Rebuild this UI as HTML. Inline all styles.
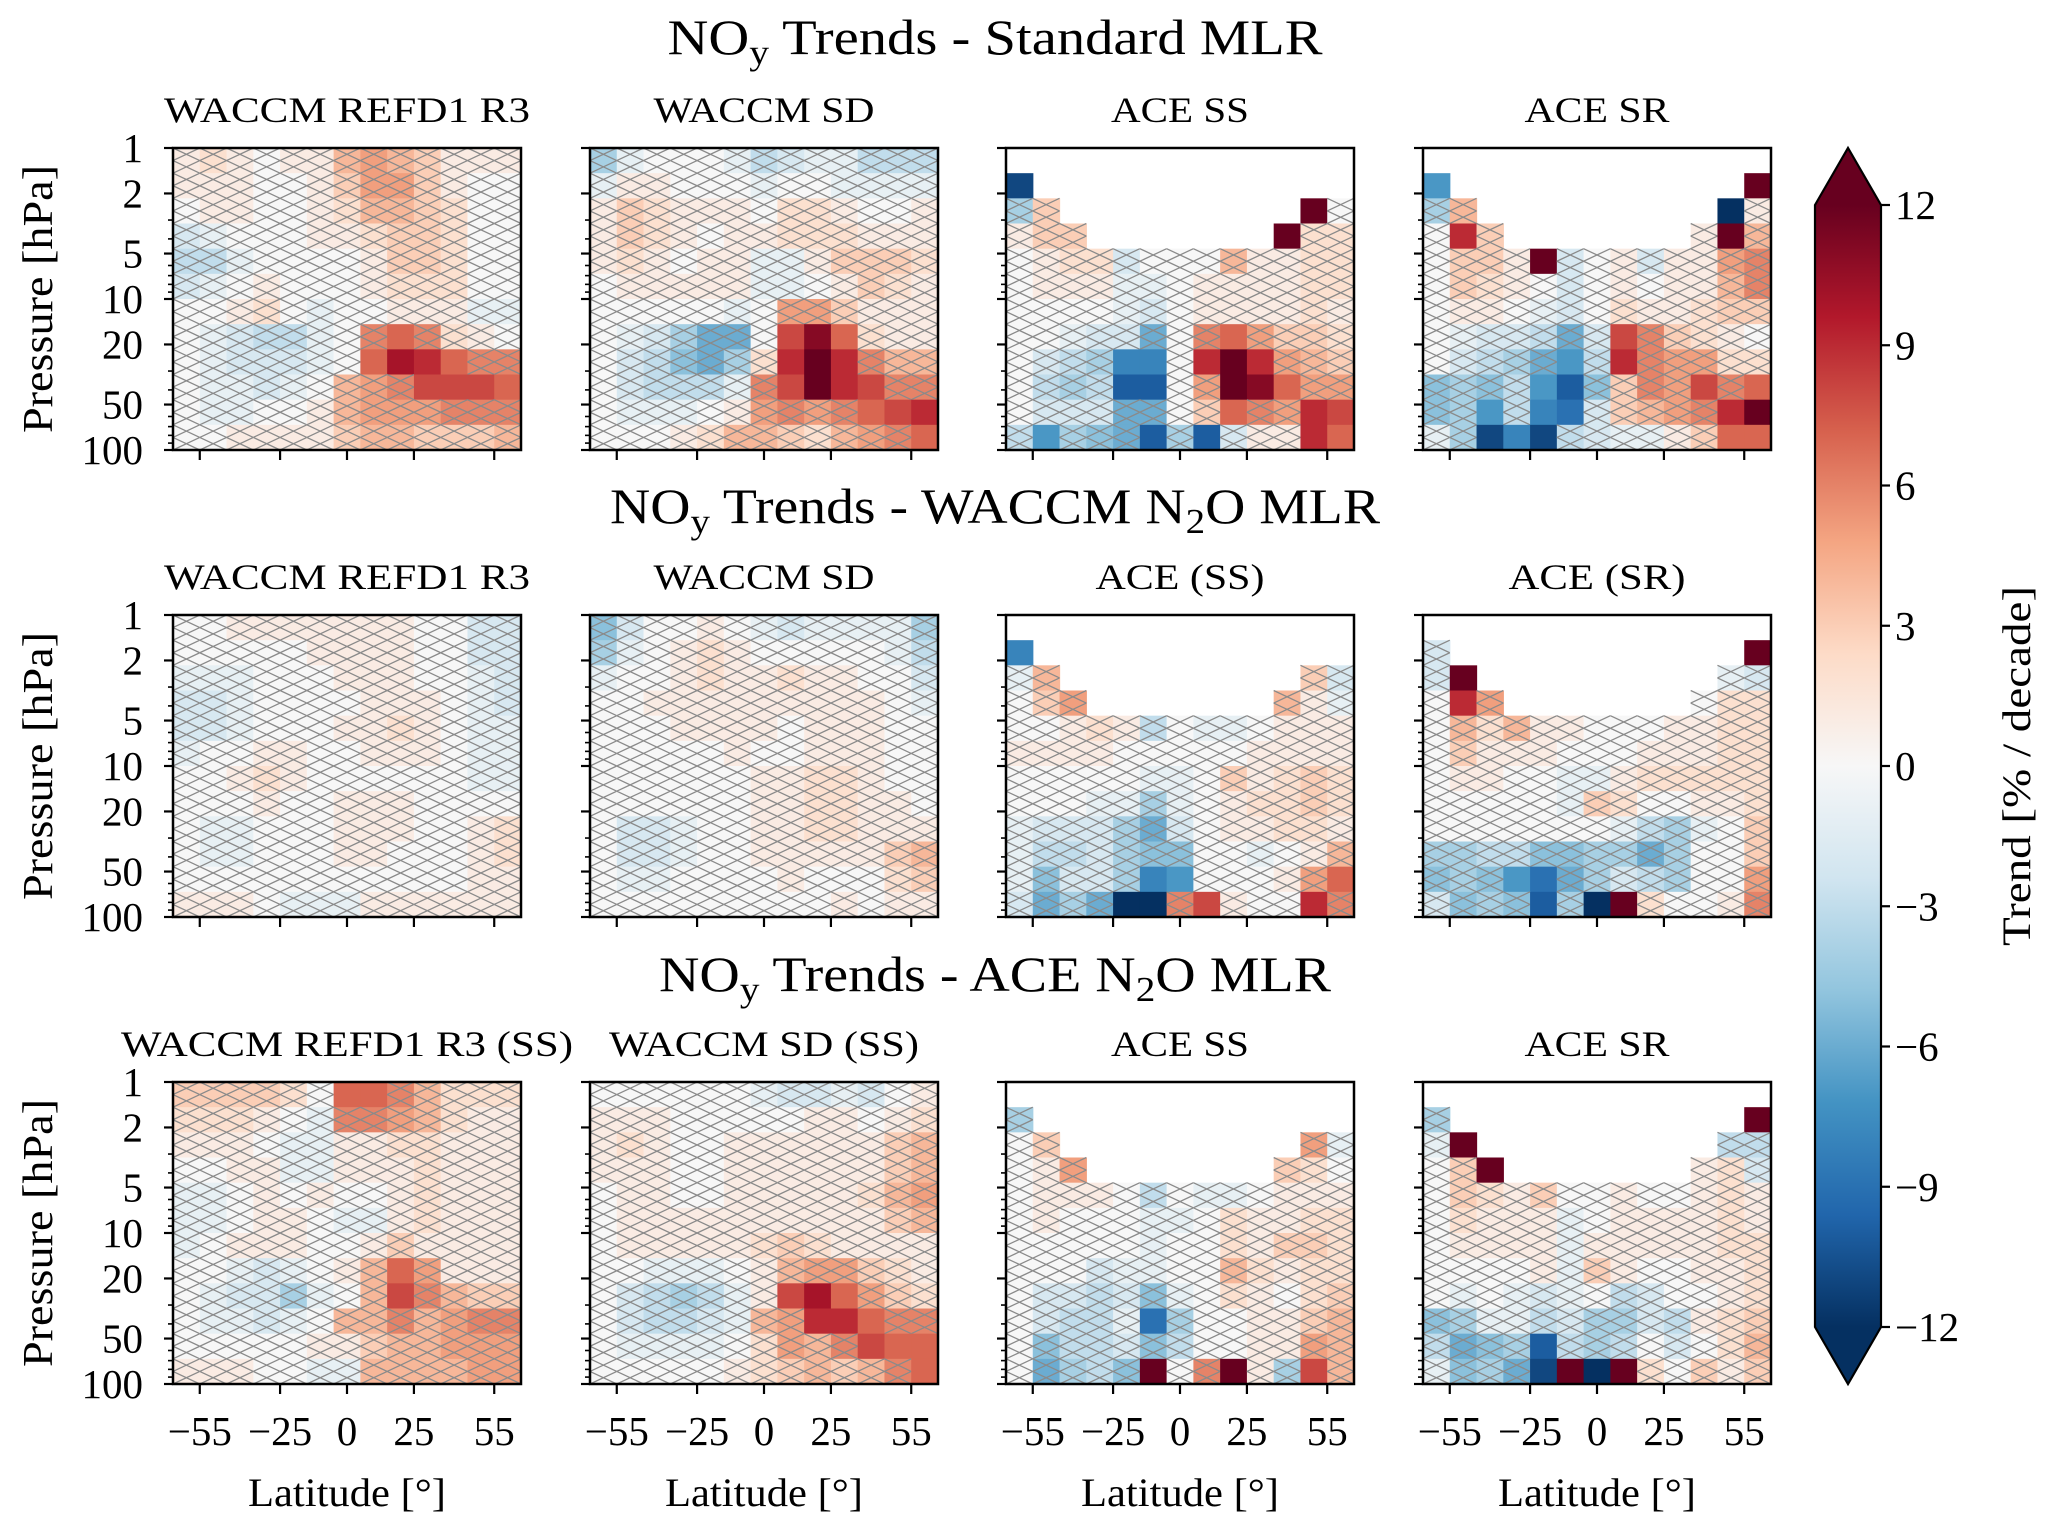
<!DOCTYPE html>
<html><head><meta charset="utf-8">
<style>
html,body{margin:0;padding:0;background:#fff;}
svg{display:block;font-family:"Liberation Serif",serif;}
</style></head>
<body>
<svg id="fig" width="2067" height="1532" viewBox="0 0 2067 1532" xmlns="http://www.w3.org/2000/svg">
<defs>
<linearGradient id="cbgrad" x1="0" y1="1" x2="0" y2="0">
<stop offset="0" stop-color="#053061"/><stop offset="0.1" stop-color="#2166ac"/><stop offset="0.2" stop-color="#4393c3"/><stop offset="0.3" stop-color="#92c5de"/><stop offset="0.4" stop-color="#d1e5f0"/><stop offset="0.5" stop-color="#f7f7f7"/><stop offset="0.6" stop-color="#fddbc7"/><stop offset="0.7" stop-color="#f4a582"/><stop offset="0.8" stop-color="#d6604d"/><stop offset="0.9" stop-color="#b2182b"/><stop offset="1" stop-color="#67001f"/>
</linearGradient>
</defs>
<g id="panels"></g>
<g id="texts">
<text x="995" y="54" font-size="50" text-anchor="middle" textLength="655" lengthAdjust="spacingAndGlyphs">NO<tspan font-size="35" dy="10">y</tspan><tspan dy="-10"> Trends - Standard MLR</tspan></text>
<text x="995" y="523" font-size="50" text-anchor="middle" textLength="770" lengthAdjust="spacingAndGlyphs">NO<tspan font-size="35" dy="10">y</tspan><tspan dy="-10"> Trends - WACCM N</tspan><tspan font-size="35" dy="10">2</tspan><tspan dy="-10">O MLR</tspan></text>
<text x="995" y="991" font-size="50" text-anchor="middle" textLength="672" lengthAdjust="spacingAndGlyphs">NO<tspan font-size="35" dy="10">y</tspan><tspan dy="-10"> Trends - ACE N</tspan><tspan font-size="35" dy="10">2</tspan><tspan dy="-10">O MLR</tspan></text>
</g>
<g id="colorbar"></g>
</svg>
<script>
const NS="http://www.w3.org/2000/svg";
const lats=[-60,-50,-40,-30,-20,-10,0,10,20,30,40,50,60];
const latTicks=[-55,-25,0,25,55];
const pTicks=[1,2,5,10,20,50,100];
const pMinor=[3,4,6,7,8,9,30,40,60,70,80,90];
const cbTicks=[-12,-9,-6,-3,0,3,6,9,12];
const titles=["WACCM REFD1 R3","WACCM SD","ACE SS","ACE SR","WACCM REFD1 R3","WACCM SD","ACE (SS)","ACE (SR)","WACCM REFD1 R3 (SS)","WACCM SD (SS)","ACE SS","ACE SR"];
const titleWidths=[366,221,138,145,366,221,169,177,452,310,138,145];
const N=null;
// each panel: 12 rows (1 hPa -> 100 hPa), 13 latitude columns (-60..60)
const p1=[[1,2,1,0,1,1,4,5,4,3,1,1,1],[1,1,1,0,0,1,3,5,5,3,1,0,0],[0,1,1,0,0,1,2,4,4,3,2,0,0],[-2,-1,0,0,0,1,1,2,3,3,2,0,0],[-3,-3,-1,0,0,0,0,1,3,3,2,0,0],[-2,-1,0,1,0,0,0,1,2,2,2,0,0],[0,0,1,2,0,-1,0,0,1,1,1,-1,-1],[0,-1,-2,-3,-3,-1,0,6,7,6,2,1,0],[0,-1,-2,-2,-2,-1,0,7,10,9,7,6,6],[0,-1,-1,-2,-1,0,4,5,6,8,8,8,7],[0,-1,-1,0,0,1,4,5,5,5,6,6,6],[0,0,1,1,1,1,3,4,4,3,3,3,4]];
const p2=[[-4,-1,0,0,0,-1,-3,-2,-1,-1,-3,-3,-3],[-1,1,1,0,0,0,-1,0,0,-1,-1,-1,-1],[1,3,2,1,1,1,0,2,2,1,0,0,1],[1,3,2,1,0,1,1,2,2,2,1,1,1],[1,2,1,0,1,1,-1,-1,1,3,3,3,2],[0,1,1,1,1,1,-1,-1,0,1,3,2,1],[0,0,0,0,0,-1,0,5,5,3,1,1,1],[0,-1,-2,-4,-6,-6,0,8,11,7,2,1,1],[0,-2,-3,-5,-6,-4,2,9,12,9,6,4,4],[0,-2,-3,-3,-3,-1,6,8,12,9,8,6,6],[0,-1,-1,-1,0,1,5,6,5,6,7,8,9],[0,0,0,1,2,4,4,3,2,4,5,6,7]];
const p3=[[N,N,N,N,N,N,N,N,N,N,N,N,N],[-11,N,N,N,N,N,N,N,N,N,N,N,N],[-4,3,N,N,N,N,N,N,N,N,N,12,0],[1,3,3,N,N,N,N,N,N,N,12,2,2],[0,1,2,2,-2,0,0,0,4,1,1,2,2],[0,1,1,1,-1,-1,0,1,1,1,1,2,2],[0,0,0,0,-1,-2,0,1,1,1,1,2,1],[0,0,-1,-2,-2,-6,0,6,7,5,3,3,2],[0,-2,-3,-4,-8,-8,0,9,12,9,5,4,3],[0,-3,-4,-3,-10,-10,0,5,12,11,7,5,5],[0,-2,-2,-2,-6,-6,0,3,7,6,5,9,8],[-3,-7,-4,-5,-6,-10,-4,-10,-2,1,1,9,7]];
const p4=[[N,N,N,N,N,N,N,N,N,N,N,N,N],[-7,N,N,N,N,N,N,N,N,N,N,N,12],[-4,4,N,N,N,N,N,N,N,N,N,-12,1],[0,9,3,N,N,N,N,N,N,N,1,12,4],[0,3,3,1,12,-2,0,1,-2,1,1,5,6],[0,3,2,1,0,-2,0,1,0,1,1,4,6],[0,1,1,0,-1,-2,0,2,1,1,2,3,3],[0,-1,-2,-2,-3,-6,-2,8,6,3,2,1,0],[0,-2,-3,-4,-6,-7,-3,9,6,5,5,2,2],[-5,-4,-5,-3,-7,-10,-5,3,6,5,8,6,7],[-5,-4,-7,-3,-8,-9,-2,3,4,5,6,9,12],[-1,-4,-11,-8,-11,-3,-2,-1,-1,1,3,7,7]];
const p5=[[0,0,1,1,1,1,1,1,1,0,0,-2,-2],[0,0,0,0,0,1,1,1,1,0,0,-2,-2],[-1,-1,-1,0,0,0,1,1,1,0,0,-1,-2],[-2,-2,-1,0,0,0,0,1,1,1,0,-1,-2],[-2,-2,-1,0,0,0,1,1,2,1,0,-1,-1],[-1,0,0,1,1,0,0,1,1,1,0,-1,-1],[0,0,1,2,1,0,0,0,0,0,0,-1,-1],[0,0,0,1,0,0,1,1,1,0,0,0,0],[0,-1,-1,0,0,0,1,1,1,0,0,1,2],[0,-1,-1,0,0,0,1,1,0,0,0,1,2],[0,0,0,0,0,0,0,0,0,0,0,1,1],[1,1,1,0,-1,-1,-1,1,1,1,1,1,1]];
const p6=[[-5,-2,0,0,1,0,-1,-2,-1,-1,-1,-1,-4],[-4,-1,0,1,2,1,0,0,0,0,0,-1,-3],[-1,0,0,1,2,1,1,2,1,1,0,0,-2],[0,0,1,1,1,1,1,1,1,1,1,0,-1],[0,0,0,1,1,1,1,0,1,1,1,0,0],[0,0,0,0,0,1,0,0,1,1,1,0,0],[0,0,0,0,0,0,1,1,2,2,1,0,0],[0,0,0,0,0,0,1,1,2,2,1,1,0],[0,-2,-2,-1,0,0,1,1,2,2,1,1,1],[0,-2,-2,-1,0,0,1,1,1,1,1,3,4],[0,-1,-1,0,0,0,0,1,0,0,0,2,3],[0,0,0,0,0,0,0,0,0,1,0,1,1]];
const p7=[[N,N,N,N,N,N,N,N,N,N,N,N,N],[-8,N,N,N,N,N,N,N,N,N,N,N,N],[-1,4,N,N,N,N,N,N,N,N,N,3,-2],[0,3,5,N,N,N,N,N,N,N,4,1,-1],[0,0,1,2,1,-3,0,-1,-1,0,1,1,1],[1,1,1,1,0,0,0,0,0,1,1,1,1],[0,0,0,0,0,-1,-1,0,3,1,2,3,2],[0,0,0,-1,-1,-4,-1,0,1,2,2,3,2],[-1,-2,-2,-2,-4,-6,-2,0,1,1,2,2,1],[-1,-3,-3,-2,-4,-5,-5,0,0,-1,0,1,4],[-1,-5,-2,-2,-4,-8,-7,0,0,0,1,5,7],[-2,-6,-4,-6,-12,-12,6,8,1,0,0,9,6]];
const p8=[[N,N,N,N,N,N,N,N,N,N,N,N,N],[-2,N,N,N,N,N,N,N,N,N,N,N,12],[-2,12,N,N,N,N,N,N,N,N,N,-1,-2],[0,9,5,N,N,N,N,N,N,N,0,2,2],[0,4,2,4,1,1,0,0,0,1,1,2,2],[0,3,1,1,1,0,0,0,1,1,1,2,2],[0,1,1,0,0,-1,-1,1,2,2,2,2,2],[0,0,0,0,0,-1,3,2,0,0,1,1,2],[0,0,0,0,0,0,0,-1,-3,-4,-1,0,3],[-4,-4,-3,-3,-5,-5,-4,-4,-6,-4,0,0,3],[-5,-4,-5,-7,-9,-6,-4,-2,-3,-4,0,0,5],[-2,-5,-4,-5,-10,-4,-12,12,2,0,0,1,6]];
const p9=[[3,3,3,3,2,0,7,7,6,4,2,2,2],[2,2,2,1,0,-1,6,6,5,4,2,1,1],[1,1,1,0,-1,-1,1,1,2,2,1,1,1],[0,0,1,1,-1,-1,1,1,1,2,1,1,1],[-1,-1,0,1,0,1,0,0,1,2,1,1,1],[-1,-1,0,1,1,0,-1,-1,1,2,1,1,1],[-1,0,1,1,1,0,0,1,3,1,1,1,1],[0,0,-1,-2,-1,0,1,4,7,5,1,1,1],[0,-1,-2,-2,-4,-1,0,4,8,6,4,3,3],[0,-1,-1,-2,-1,0,4,4,6,4,5,6,6],[0,0,0,0,0,1,1,3,4,4,5,5,5],[1,1,1,0,0,-1,-1,4,4,4,4,5,5]];
const p10=[[0,0,0,0,0,0,-1,-2,-2,-1,-2,0,1],[1,1,1,0,0,0,0,0,1,1,0,1,2],[1,2,1,0,0,1,1,1,1,1,1,3,4],[1,1,1,0,0,1,1,1,1,1,1,3,4],[0,1,1,0,0,1,1,1,1,1,2,4,5],[0,1,1,1,1,1,1,1,1,1,1,3,4],[0,1,1,1,1,1,2,3,2,1,1,1,1],[0,0,-1,-1,-1,0,1,4,5,5,3,2,1],[0,-2,-3,-4,-3,-1,1,8,10,7,5,3,2],[0,-2,-3,-3,-2,-1,4,5,9,9,7,6,6],[0,-1,-1,-1,-1,0,2,5,4,6,8,7,7],[0,0,0,0,0,1,2,3,4,3,4,6,7]];
const p11=[[N,N,N,N,N,N,N,N,N,N,N,N,N],[-4,N,N,N,N,N,N,N,N,N,N,N,N],[0,3,N,N,N,N,N,N,N,N,N,5,-1],[0,1,5,N,N,N,N,N,N,N,3,2,0],[0,1,1,1,0,-3,0,-1,-1,0,1,1,1],[0,1,0,0,0,-1,-1,0,2,1,1,2,2],[0,0,0,0,0,-1,0,0,2,1,3,3,2],[0,0,0,-2,-1,-1,0,0,4,2,1,2,2],[0,-2,-2,-3,-2,-5,-1,0,2,1,0,2,3],[0,-2,-3,-3,-1,-9,-4,0,0,1,1,3,4],[0,-5,-3,-3,-2,-5,-3,0,0,1,1,5,4],[0,-6,-4,-3,-5,12,0,6,12,1,-4,8,4]];
const p12=[[N,N,N,N,N,N,N,N,N,N,N,N,N],[-4,N,N,N,N,N,N,N,N,N,N,N,12],[-1,12,N,N,N,N,N,N,N,N,N,-3,-3],[0,3,12,N,N,N,N,N,N,N,1,2,-2],[0,3,2,1,3,0,0,1,0,0,1,2,1],[0,2,1,1,1,-1,0,1,1,1,1,2,1],[0,1,1,1,1,-1,1,1,1,1,1,2,2],[0,0,0,0,1,-1,3,1,0,0,1,1,2],[0,-1,0,-1,-2,-1,0,-3,-2,0,0,1,2],[-5,-4,-1,-1,-3,-2,-4,-4,-2,-3,1,2,3],[-3,-6,-5,-4,-10,-3,-4,-3,0,-2,0,2,4],[-1,-5,-4,-6,-11,12,-12,12,2,0,3,1,3]];
const panelData=[p1,p2,p3,p4,p5,p6,p7,p8,p9,p10,p11,p12];

const LEFTS=[173,590,1006,1423], TOPS=[148,615,1082], W=348, H=302;
const stops=["#053061","#2166ac","#4393c3","#92c5de","#d1e5f0","#f7f7f7","#fddbc7","#f4a582","#d6604d","#b2182b","#67001f"];
function hex(c){return [parseInt(c.substr(1,2),16),parseInt(c.substr(3,2),16),parseInt(c.substr(5,2),16)];}
function cmap(v){let t=(Math.max(-12,Math.min(12,v))+12)/24*10;let i=Math.min(9,Math.floor(t));let f=t-i;const a=hex(stops[i]),b=hex(stops[i+1]);return "rgb("+a.map((x,k)=>Math.round(x+(b[k]-x)*f)).join(",")+")";}
function el(tag,attrs,parent){const e=document.createElementNS(NS,tag);for(const k in attrs)e.setAttribute(k,attrs[k]);parent.appendChild(e);return e;}
const panelsG=document.getElementById("panels");
function xScale(x0,lat){return x0+(lat+65)/130*W;}
function yScale(y0,p){return y0+Math.log10(p)/2*H;}
const nRows=12;
for(let pi=0;pi<12;pi++){
  const col=pi%4,row=Math.floor(pi/4);
  const x0=LEFTS[col],y0=TOPS[row];
  const g=el("g",{},panelsG);
  
  
  const data=panelData[pi];
  for(let r=0;r<nRows;r++){
    const pTop=Math.pow(10,2*r/nRows),pBot=Math.pow(10,2*(r+1)/nRows);
    const yt=yScale(y0,pTop),yb=yScale(y0,pBot);
    for(let c=0;c<lats.length;c++){
      const v=data[r][c]; if(v===null)continue;
      const xl=xScale(x0,lats[c]-5),xr=xScale(x0,lats[c]+5);
      const cell=el("rect",{x:xl.toFixed(2),y:yt.toFixed(2),width:(xr-xl+0.6).toFixed(2),height:(yb-yt+0.6).toFixed(2),fill:cmap(v)},g);
      
      
      if(Math.abs(v)<7){
        const ym=(yt+yb)/2;
        for(const [a,b] of [[yt,ym],[ym,yb]]){
          const h=el("path",{d:`M${xl} ${a}L${xr} ${b}M${xl} ${b}L${xr} ${a}`,stroke:"#8a8a8a","stroke-width":"1.3",fill:"none"},g);
          
          
        }
      }
    }
  }
  const fr=el("rect",{x:x0,y:y0,width:W,height:H,fill:"none",stroke:"#000","stroke-width":"2.5"},g);
  
  
  const st=el("text",{x:x0+W/2,y:TOPS[row]-26,"font-size":"36","text-anchor":"middle",textLength:titleWidths[pi],lengthAdjust:"spacingAndGlyphs"},g);
  st.textContent=titles[pi];
  
  
  for(const p of pTicks){
    const y=yScale(y0,p);
    el("line",{x1:x0-9,x2:x0,y1:y,y2:y,stroke:"#000","stroke-width":"2.2"},g);
    if(col===0){
      const t=el("text",{x:x0-30,y:y+14,"font-size":"41","text-anchor":"end"},g);
      t.textContent=String(p);
      
      
    }
  }
  for(const p of pMinor){
    const y=yScale(y0,p);
    el("line",{x1:x0-5,x2:x0,y1:y,y2:y,stroke:"#000","stroke-width":"1.6"},g);
  }
  for(const l of latTicks){
    const x=xScale(x0,l);
    el("line",{x1:x,x2:x,y1:y0+H,y2:y0+H+10,stroke:"#000","stroke-width":"2.2"},g);
    if(row===2){
      const t=el("text",{x:x,y:1445,"font-size":"41","text-anchor":"middle"},g);
      t.textContent=(l<0?"\u2212"+(-l):String(l));
      
      
    }
  }
  if(row===2){
    const t=el("text",{x:x0+W/2,y:1506,"font-size":"40","text-anchor":"middle",textLength:"198",lengthAdjust:"spacingAndGlyphs"},g);
    t.textContent="Latitude [\u00b0]";
    
    
  }
  if(col===0){
    const cy=y0+H/2;
    const t=el("text",{x:52,y:cy,"font-size":"42","text-anchor":"middle",transform:`rotate(-90 52 ${cy})`,textLength:"268",lengthAdjust:"spacingAndGlyphs"},g);
    t.textContent="Pressure [hPa]";
    
    
  }
}
// colorbar
const cb=document.getElementById("colorbar");
const cbX=1815,cbW=66,cbTop=205,cbBot=1327;
function cbY(v){return cbBot-(v+12)/24*(cbBot-cbTop);}
const up=el("polygon",{points:`${cbX},${cbTop} ${cbX+cbW/2},148 ${cbX+cbW},${cbTop}`,fill:"#67001f"},cb);


const dn=el("polygon",{points:`${cbX},${cbBot} ${cbX+cbW/2},1384 ${cbX+cbW},${cbBot}`,fill:"#053061"},cb);


el("rect",{x:cbX,y:cbTop,width:cbW,height:cbBot-cbTop,fill:"url(#cbgrad)"},cb);
el("path",{d:`M${cbX} ${cbTop}L${cbX+cbW/2} 148L${cbX+cbW} ${cbTop}L${cbX+cbW} ${cbBot}L${cbX+cbW/2} 1384L${cbX} ${cbBot}Z`,fill:"none",stroke:"#000","stroke-width":"2.2"},cb);
for(const v of cbTicks){
  const y=cbY(v);
  el("line",{x1:cbX+cbW,x2:cbX+cbW+9,y1:y,y2:y,stroke:"#000","stroke-width":"2.2"},cb);
  const t=el("text",{x:cbX+cbW+14,y:y+14,"font-size":"41"},cb);
  t.textContent=(v<0?"\u2212"+(-v):String(v));
  
  
}
const cl=el("text",{x:2030,y:766,"font-size":"40","text-anchor":"middle",transform:"rotate(-90 2030 766)",textLength:"360",lengthAdjust:"spacingAndGlyphs"},cb);
cl.textContent="Trend [% / decade]";


</script>
</body></html>
